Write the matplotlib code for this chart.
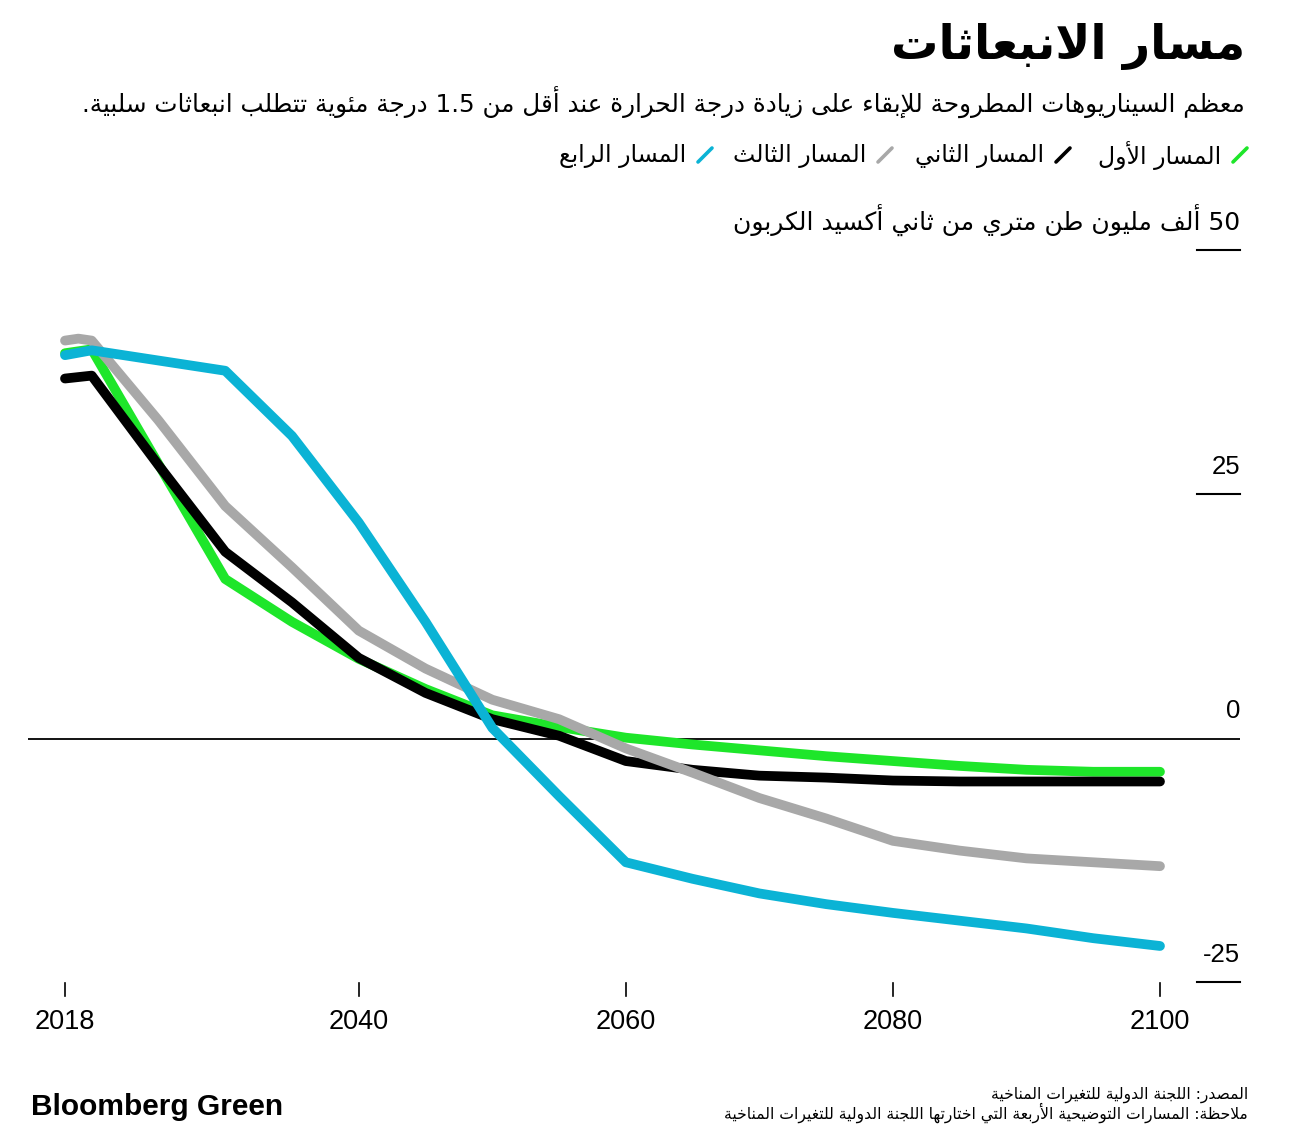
import re
import matplotlib
matplotlib.use('Agg')
import matplotlib.pyplot as plt
from matplotlib.lines import Line2D

W, H = 1296, 1135

# --- data ---
p1_years = [2018, 2020, 2030, 2035, 2040, 2045, 2050, 2055, 2060, 2065, 2070, 2075, 2080, 2085, 2090, 2095, 2100]
p1_vals = [39.6, 40.0, 16.4, 12.0, 8.2, 5.1, 2.4, 1.2, 0.1, -0.6, -1.2, -1.8, -2.3, -2.8, -3.2, -3.4, -3.4]

p2_years = [2018, 2020, 2025, 2030, 2035, 2040, 2045, 2050, 2055, 2060, 2065, 2070, 2075, 2080, 2085, 2090, 2095, 2100]
p2_vals = [37.0, 37.3, 28.1, 19.2, 14.0, 8.3, 4.7, 2.0, 0.3, -2.3, -3.2, -3.8, -4.0, -4.3, -4.4, -4.4, -4.4, -4.4]

p3_years = [2018, 2019, 2020, 2025, 2030, 2035, 2040, 2045, 2050, 2055, 2060, 2065, 2070, 2075, 2080, 2085, 2090, 2095, 2100]
p3_vals = [40.9, 41.1, 40.9, 32.7, 23.9, 17.6, 11.1, 7.2, 4.0, 2.0, -1.0, -3.5, -6.1, -8.2, -10.5, -11.5, -12.3, -12.7, -13.1]

p4_years = [2018, 2020, 2030, 2035, 2040, 2045, 2050, 2055, 2060, 2065, 2070, 2075, 2080, 2085, 2090, 2095, 2100]
p4_vals = [39.4, 39.9, 37.8, 31.1, 22.2, 12.0, 1.1, -5.9, -12.7, -14.4, -15.9, -17.0, -17.9, -18.7, -19.5, -20.5, -21.3]

series_names = ['المسار الأول', 'المسار الثاني', 'المسار الثالث', 'المسار الرابع']
series_colors = ['#1ee62a', '#000000', '#a8a8a8', '#0bb3d5']

x_ticks = [2018, 2040, 2060, 2080, 2100]
y_ticks = [50, 25, 0, -25]
y_unit = '50 ألف مليون طن متري من ثاني أكسيد الكربون'

title = 'مسار الانبعاثات'
subtitle = 'معظم السيناريوهات المطروحة للإبقاء على زيادة درجة الحرارة عند أقل من 1.5 درجة مئوية تتطلب انبعاثات سلبية.'
source = 'المصدر: اللجنة الدولية للتغيرات المناخية'
note = 'ملاحظة: المسارات التوضيحية الأربعة التي اختارتها اللجنة الدولية للتغيرات المناخية'


# --- minimal arabic shaping (no bidi/reshaper libs available) ---
_runs = [(0x0621, 0xFE80, 1), (0x0622, 0xFE81, 2), (0x0623, 0xFE83, 2), (0x0624, 0xFE85, 2),
         (0x0625, 0xFE87, 2), (0x0626, 0xFE89, 4), (0x0627, 0xFE8D, 2), (0x0628, 0xFE8F, 4),
         (0x0629, 0xFE93, 2), (0x062A, 0xFE95, 4), (0x062B, 0xFE99, 4), (0x062C, 0xFE9D, 4),
         (0x062D, 0xFEA1, 4), (0x062E, 0xFEA5, 4), (0x062F, 0xFEA9, 2), (0x0630, 0xFEAB, 2),
         (0x0631, 0xFEAD, 2), (0x0632, 0xFEAF, 2), (0x0633, 0xFEB1, 4), (0x0634, 0xFEB5, 4),
         (0x0635, 0xFEB9, 4), (0x0636, 0xFEBD, 4), (0x0637, 0xFEC1, 4), (0x0638, 0xFEC5, 4),
         (0x0639, 0xFEC9, 4), (0x063A, 0xFECD, 4), (0x0641, 0xFED1, 4), (0x0642, 0xFED5, 4),
         (0x0643, 0xFED9, 4), (0x0644, 0xFEDD, 4), (0x0645, 0xFEE1, 4), (0x0646, 0xFEE5, 4),
         (0x0647, 0xFEE9, 4), (0x0648, 0xFEED, 2), (0x0649, 0xFEEF, 2), (0x064A, 0xFEF1, 4)]
FORMS = {c: tuple(s + k for k in range(n)) for c, s, n in _runs}
LAM_ALEF = {0x0622: 0xFEF5, 0x0623: 0xFEF7, 0x0625: 0xFEF9, 0x0627: 0xFEFB}


def shape(text):
    out = []
    prev_joins = False
    i = 0
    while i < len(text):
        c = ord(text[i])
        nxt = ord(text[i + 1]) if i + 1 < len(text) else None
        if c not in FORMS:
            out.append(text[i])
            prev_joins = False
            i += 1
            continue
        if c == 0x0644 and nxt in LAM_ALEF:
            out.append(chr(LAM_ALEF[nxt] + (1 if prev_joins else 0)))
            prev_joins = False
            i += 2
            continue
        f = FORMS[c]
        next_joins = len(f) == 4 and nxt in FORMS and nxt != 0x0621
        if prev_joins and next_joins:
            g = f[3]
        elif prev_joins:
            g = f[1] if len(f) > 1 else f[0]
        elif next_joins:
            g = f[2]
        else:
            g = f[0]
        out.append(chr(g))
        prev_joins = len(f) == 4
        i += 1
    return ''.join(out)


def ar(text):
    s = shape(text)[::-1]
    return re.sub(r'[0-9][0-9.]*', lambda m: m.group(0)[::-1], s)


AR_FONT = 'DejaVu Sans'
NUM_FONT = ['Liberation Sans Narrow', 'Liberation Sans', 'DejaVu Sans']


def px(x, y):
    return x / W, 1 - y / H


fig = plt.figure(figsize=(W / 100, H / 100), dpi=100)
fig.patch.set_facecolor('white')

# axes: 28..1240 px wide, 50 at y=252, -25 at y=982
x0_px, x1_px = 65.0, 1160.0
ppy = (x1_px - x0_px) / (2100 - 2018)
xmin = 2018 - (x0_px - 28) / ppy
xmax = 2100 + (1240 - x1_px) / ppy
ax = fig.add_axes([28 / W, 1 - 982 / H, (1240 - 28) / W, (982 - 252) / H])
ax.set_xlim(xmin, xmax)
ax.set_ylim(-25, 50)
ax.axis('off')

ax.axhline(0, color='black', lw=1.3, zorder=1)

all_years = [p1_years, p2_years, p3_years, p4_years]
all_vals = [p1_vals, p2_vals, p3_vals, p4_vals]
for yrs, vals, col in zip(all_years, all_vals, series_colors):
    ax.plot(yrs, vals, color=col, lw=7.0, solid_capstyle='round',
            solid_joinstyle='round', zorder=3)

# y tick marks (short lines at right) and labels above them
for v in y_ticks:
    ypix = 738 - v * (982 - 738) / 25
    if v != 0:
        fig.add_artist(Line2D([1197 / W, 1240 / W], [1 - ypix / H] * 2,
                              color='black', lw=1.5))
    if v == 50:
        fig.text(*px(1240, ypix - 30), ar(y_unit), ha='right', va='center',
                 fontsize=18, family=AR_FONT)
    else:
        fig.text(*px(1240, ypix - 27), str(v), ha='right', va='center',
                 fontsize=18.5, family=NUM_FONT)

# x ticks
for yr in x_ticks:
    xp = x0_px + (yr - 2018) * ppy
    fig.add_artist(Line2D([xp / W] * 2, [1 - 983 / H, 1 - 996 / H],
                          color='black', lw=1.2))
    fig.text(*px(xp, 1022), str(yr), ha='center', va='center',
             fontsize=19.5, family=NUM_FONT)

# title block
fig.text(*px(1245, 47), ar(title), ha='right', va='center', fontsize=34,
         fontweight='bold', family=AR_FONT)
fig.text(*px(1245, 102), ar(subtitle), ha='right', va='center', fontsize=17.7,
         family=AR_FONT)

# legend
slash_x = [1240, 1063, 885, 705]
for sx, name, col in zip(slash_x, series_names, series_colors):
    fig.add_artist(Line2D([(sx - 7) / W, (sx + 7) / W],
                          [1 - 162 / H, 1 - 148 / H], color=col, lw=2.6,
                          solid_capstyle='round'))
    fig.text(*px(sx - 19, 156), ar(name), ha='right', va='center',
             fontsize=17, family=AR_FONT)

# footer
fig.text(*px(31, 1107), 'Bloomberg Green', ha='left', va='center',
         fontsize=21.5, fontweight='bold', family=['Liberation Sans', 'DejaVu Sans'])
fig.text(*px(1248, 1095), ar(source), ha='right', va='center', fontsize=11.2,
         family=AR_FONT)
fig.text(*px(1248, 1113), ar(note), ha='right', va='center', fontsize=11.2,
         family=AR_FONT)

fig.savefig('out.png', dpi=100, facecolor='white')
